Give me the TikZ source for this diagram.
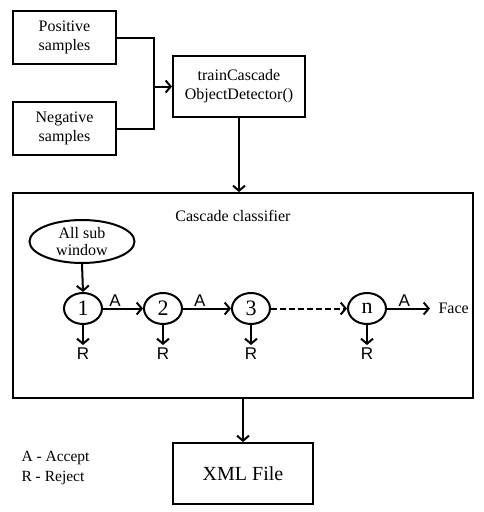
\documentclass[tikz,border=0pt]{standalone}
\usepackage{fontspec}
\setmainfont{Liberation Serif}
\newfontfamily\labfont{Liberation Sans}
\usetikzlibrary{arrows.meta,shapes.geometric}
\begin{document}
\begin{tikzpicture}[x=1pt,y=-1pt,
  box/.style={draw,line width=2pt,inner sep=0pt,align=center},
  stage/.style={draw,ellipse,line width=2pt,minimum width=38pt,minimum height=31pt,inner sep=0pt,font=\fontsize{22}{24}\selectfont},
  arr/.style={line width=2pt,-{Straight Barb[length=5pt,width=12pt,line width=2pt]}},
  txt/.style={font=\fontsize{16}{19}\selectfont,align=center},
  lab/.style={font=\labfont\fontsize{17}{19}\selectfont,inner sep=1pt}]
\useasboundingbox (0,0) rectangle (484,512);
\node[box,minimum width=103pt,minimum height=53pt,txt] (pos) at (64.5,37.5) {Positive\\samples};
\node[box,minimum width=103pt,minimum height=53pt,txt] (neg) at (64.5,128.5) {Negative\\samples};
\node[box,minimum width=132pt,minimum height=61pt,txt] (train) at (239,86.5) {trainCascade\\ObjectDetector()};
\coordinate (jn) at (154,86.5);
\draw[line width=2pt] (pos.east) -| (jn) |- (neg.east);
\draw[arr] (jn) -- (train.west);
\node[box,minimum width=460pt,minimum height=205pt] (casc) at (243,295.5) {};
\draw[arr] (train.south) -- (casc.north -| train.south);
\node[txt] (ctitle) at (233,216) {Cascade classifier};
\node[draw,ellipse,line width=2pt,minimum width=105pt,minimum height=43pt,inner sep=0pt,txt,font=\fontsize{16}{17}\selectfont] (all) at (82,241.5) {All sub\\window};
\node[stage] (s1) at (83,308.5) {1};
\node[stage] (s2) at (163,308.5) {2};
\node[stage] (s3) at (251,308.5) {3};
\node[stage] (sn) at (367,308.5) {n};
\draw[arr] (all.south) -- (s1.north);
\draw[arr] (s1) -- node[lab,above=0pt,pos=0.3] (a1) {A} (s2);
\draw[arr] (s2) -- node[lab,above=0pt,pos=0.35] (a2) {A} (s3);
\draw[arr,dash pattern=on 6pt off 3pt] (s3) -- (sn);
\coordinate (fe) at (430,308.5);
\draw[arr] (sn) -- node[lab,above=0pt,pos=0.4] (a3) {A} (fe);
\node[txt,anchor=west] (face) at (435,308.5) {Face};
\foreach \s/\n in {s1/r1,s2/r2,s3/r3,sn/rn}{
  \coordinate (\n e) at ([yshift=-20pt]\s.south);
  \draw[arr] (\s.south) -- (\n e);
  \node[lab,below=2pt] (\n) at (\n e) {R};
}
\node[box,minimum width=140pt,minimum height=61pt,font=\fontsize{20}{22}\selectfont] (xml) at (243,473.5) {XML File};
\draw[arr] (casc.south -| xml.north) -- (xml.north);
\node[anchor=west,align=left,font=\fontsize{15.5}{20}\selectfont] (legend) at (18,468) {A - Accept\\R - Reject};
\end{tikzpicture}
\end{document}
